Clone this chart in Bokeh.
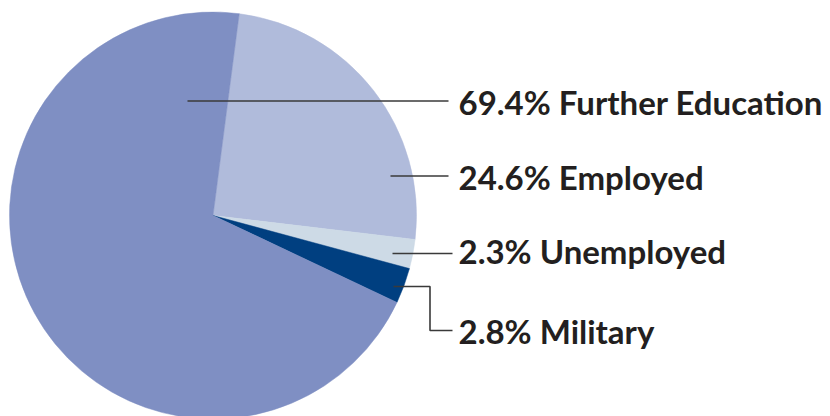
import math
from bokeh.plotting import figure
from bokeh.models import Range1d, ColumnDataSource
from bokeh.core.properties import value
from bokeh.embed import file_html
from bokeh.resources import INLINE

# ---- data ----
categories = ["Employed", "Unemployed", "Military", "Further Education"]
percents = [24.6, 2.3, 2.8, 69.4]
colors = ["#b0bbdb", "#cddae6", "#003f80", "#7f8fc3"]

W, H = 830, 416
p = figure(width=W, height=H, x_range=Range1d(0, W), y_range=Range1d(0, H),
           output_backend="svg", toolbar_location=None, min_border=0)
p.axis.visible = False
p.grid.visible = False
p.outline_line_color = None
p.background_fill_color = "white"

def Y(py):
    return H - py

cx, cy, r = 212.5, 215.0, 203.5
start_deg_from_top = 7.4
total = sum(percents)
starts, ends = [], []
acc = start_deg_from_top
for v in percents:
    a0 = acc
    a1 = acc + v / total * 360.0
    starts.append(math.radians(90 - a0))
    ends.append(math.radians(90 - a1))
    acc = a1

src = ColumnDataSource(dict(start=starts, end=ends, color=colors, cat=categories))
p.wedge(x=cx, y=Y(cy), radius=r, start_angle="start", end_angle="end",
        direction="clock", fill_color="color", line_color="color", line_width=0.5, source=src)

# leader lines (pixel coords)
lc = "#3a3a3a"
lw = 1.6
p.line([187, 448], [Y(100.5), Y(100.5)], line_color=lc, line_width=lw)
p.line([390, 448], [Y(175.5), Y(175.5)], line_color=lc, line_width=lw)
p.line([392, 452], [Y(253), Y(253)], line_color=lc, line_width=lw)
p.line([393, 429.5, 429.5, 452], [Y(286), Y(286), Y(330), Y(330)], line_color=lc, line_width=lw)

labels = [f"{v}% {c}" for v, c in zip(percents, categories)]
label_y = [176, 250, 330, 101]
p.text(x=[458] * 4, y=[Y(v) for v in label_y], text=labels,
       text_font=value("Lato"), text_font_style="bold", text_font_size="33px",
       text_baseline="middle", text_align="left", text_color="#231f20")

open("out.html", "w").write(file_html(p, INLINE))
